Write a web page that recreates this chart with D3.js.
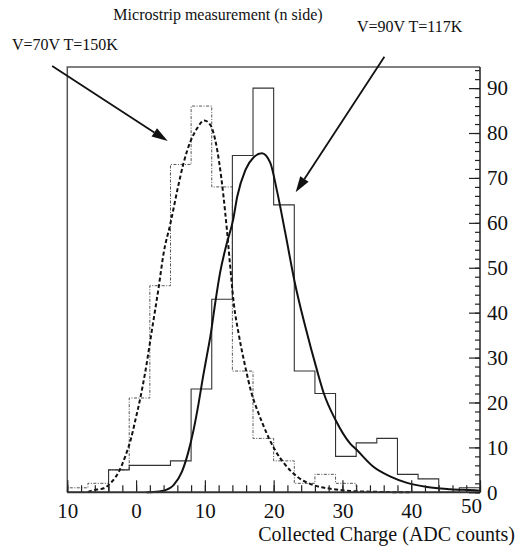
<!DOCTYPE html>
<html>
<head>
<meta charset="utf-8">
<script src="https://cdn.jsdelivr.net/npm/d3@7"></script>
<style>
  body { margin: 0; background: #fff; }
  text { font-family: "Liberation Serif", "Times New Roman", serif; fill: #111; }
</style>
</head>
<body>
<div id="chart"></div>
<script>
// Bin edges of both histograms (width 3 ADC counts)
const binEdges = [-10, -7, -4, -1, 2, 5, 8, 11, 14, 17, 20, 23, 26, 29, 32, 35, 38, 41, 44, 47, 50];

// V=90V T=117K histogram (solid)
const countsHot = [0, 0, 5, 6, 6, 7, 23, 43, 75, 90, 64, 27, 22, 8, 11, 12, 4, 3, 0, 1];
// V=70V T=150K histogram (dotted)
const countsCold = [1, 2, 5, 21, 46, 73, 86, 68, 27, 12, 7, 2, 4, 2, 0, 0, 0, 0, 0, 0];

// fit curve for V=90V
const fitHotX = [1.5, 2.5, 4.0, 5.45, 6.67, 7.6, 8.36, 9.09, 9.73, 10.3, 10.8, 11.5, 12.2, 13.2, 14.1, 14.7, 15.9, 17.1, 18.3, 19.5, 20.5, 21.7, 23.1, 24.6, 26.3, 27.3, 29.0, 31.1, 32.1, 34.5, 37.0, 39.4, 42.3, 45.7, 49.6, 50];
const fitHotY = [0, 0.05, 0.36, 1.6, 4.6, 9.0, 13.9, 19.8, 25.7, 30.5, 34.7, 42.1, 48.8, 55.5, 60.6, 65.8, 71.8, 74.6, 75.5, 73.4, 67.0, 57.7, 46.5, 36.9, 27.2, 22.0, 16.1, 10.9, 9.4, 5.7, 3.5, 2.1, 1.2, 0.7, 0.4, 0.35];

// fit curve for V=70V
const fitColdX = [-7, -6.4, -4.7, -3.5, -2.5, -1.6, -0.8, -0.1, 0.6, 1.3, 2.3, 3.3, 4.0, 5.0, 6.0, 6.9, 7.9, 8.9, 9.9, 10.8, 11.5, 12.1, 12.7, 13.2, 13.7, 14.2, 14.9, 15.8, 16.8, 17.8, 19.0, 20.2, 21.7, 23.4, 25.8, 28.7, 31.1, 35, 40];
const fitColdY = [0.1, 0.4, 0.9, 2.4, 4.6, 7.9, 11.6, 16.1, 20.9, 26.5, 36.1, 45.8, 53.2, 59.9, 67.3, 73.3, 78.1, 81.1, 82.8, 81.8, 78.5, 73.3, 66.0, 58.5, 50.0, 42.1, 35.4, 28.5, 22.0, 17.6, 13.1, 9.4, 6.1, 3.5, 1.6, 0.7, 0.3, 0.1, 0];

const xTicks = [-10, 0, 10, 20, 30, 40, 50];
const xTickLabels = ["10", "0", "10", "20", "30", "40", "50"];
const yTicks = [0, 10, 20, 30, 40, 50, 60, 70, 80, 90];

// Layout
const width = 520, height = 551;
const margin = {top: 67, right: 40, bottom: 58.7, left: 67.3};
const innerW = width - margin.left - margin.right;
const innerH = height - margin.top - margin.bottom;

const svg = d3.select("#chart").append("svg")
    .attr("width", width)
    .attr("height", height);

const g = svg.append("g")
    .attr("transform", `translate(${margin.left},${margin.top})`);

const x = d3.scaleLinear().domain([-10, 50]).range([0, innerW]);
const y = d3.scaleLinear().domain([0, 94.7]).range([innerH, 0]);

// Frame (top + left)
g.append("path")
    .attr("d", `M0,${innerH}V0H${innerW}`)
    .attr("fill", "none")
    .attr("stroke", "#555")
    .attr("stroke-width", 1.5);

// Histograms as step outlines
function histPath(counts) {
    const pts = [[binEdges[0], 0]];
    counts.forEach((c, i) => {
        pts.push([binEdges[i], c]);
        pts.push([binEdges[i + 1], c]);
    });
    pts.push([binEdges[binEdges.length - 1], 0]);
    return d3.line().x(d => x(d[0])).y(d => y(d[1]))(pts);
}

g.append("path")
    .attr("d", histPath(countsCold))
    .attr("fill", "none")
    .attr("stroke", "#555")
    .attr("stroke-width", 1)
    .attr("stroke-dasharray", "3,1.5,1,1.5");

g.append("path")
    .attr("d", histPath(countsHot))
    .attr("fill", "none")
    .attr("stroke", "#333")
    .attr("stroke-width", 1.1);

// Fit curves
const fitLine = d3.line()
    .x(d => x(d[0]))
    .y(d => y(d[1]))
    .curve(d3.curveMonotoneX);

g.append("path")
    .attr("d", fitLine(d3.zip(fitColdX, fitColdY)))
    .attr("fill", "none")
    .attr("stroke", "#111")
    .attr("stroke-width", 2)
    .attr("stroke-dasharray", "4,2.5");

g.append("path")
    .attr("d", fitLine(d3.zip(fitHotX, fitHotY)))
    .attr("fill", "none")
    .attr("stroke", "#111")
    .attr("stroke-width", 2);

// Bottom axis, ticks pointing up
const xAxis = g.append("g")
    .attr("transform", `translate(0,${innerH})`)
    .call(d3.axisBottom(x).tickValues(xTicks)
        .tickFormat((d, i) => xTickLabels[i])
        .tickSizeInner(-12).tickSizeOuter(0).tickPadding(11));
xAxis.select(".domain").remove();
xAxis.selectAll("text").attr("font-size", 21).style("font-family", "Liberation Serif");
xAxis.selectAll(".tick").filter(d => d === 50).select("text")
    .attr("dx", -9).attr("dy", "0.46em");

const xMinor = g.append("g")
    .attr("transform", `translate(0,${innerH})`)
    .call(d3.axisBottom(x).tickValues(d3.range(-10, 51, 2))
        .tickFormat("").tickSizeInner(-7).tickSizeOuter(0));
xMinor.select(".domain").remove();

g.append("line")
    .attr("x1", 0).attr("x2", innerW)
    .attr("y1", innerH).attr("y2", innerH)
    .attr("stroke", "#333").attr("stroke-width", 2);

// Right axis, ticks pointing left
const yAxis = g.append("g")
    .attr("transform", `translate(${innerW},0)`)
    .call(d3.axisRight(y).tickValues(yTicks)
        .tickSizeInner(-11).tickSizeOuter(0).tickPadding(7));
yAxis.select(".domain").remove();
yAxis.selectAll("text").attr("font-size", 21).style("font-family", "Liberation Serif");

const yMinor = g.append("g")
    .attr("transform", `translate(${innerW},0)`)
    .call(d3.axisRight(y).tickValues(d3.range(0, 95, 2))
        .tickFormat("").tickSizeInner(-5).tickSizeOuter(0));
yMinor.select(".domain").remove();

g.append("line")
    .attr("x1", innerW).attr("x2", innerW)
    .attr("y1", 0).attr("y2", innerH)
    .attr("stroke", "#222").attr("stroke-width", 1.5);

g.selectAll(".tick line").attr("stroke", "#222").attr("stroke-width", 1.2);

// Annotation arrows (data coordinates)
const arrows = [
    {from: [-12.2, 94.9], to: [4.6, 78.2]},
    {from: [36.1, 97.0], to: [23.2, 66.8]}
];

arrows.forEach(a => {
    const x0 = x(a.from[0]), y0 = y(a.from[1]);
    const x1 = x(a.to[0]), y1 = y(a.to[1]);
    const ang = Math.atan2(y1 - y0, x1 - x0);
    const len = 16, half = 5;
    const bx = x1 - len * Math.cos(ang), by = y1 - len * Math.sin(ang);
    g.append("line")
        .attr("x1", x0).attr("y1", y0).attr("x2", bx).attr("y2", by)
        .attr("stroke", "#111").attr("stroke-width", 1.8);
    g.append("path")
        .attr("d", `M${x1},${y1}L${bx + half * Math.sin(ang)},${by - half * Math.cos(ang)}L${bx - half * Math.sin(ang)},${by + half * Math.cos(ang)}Z`)
        .attr("fill", "#111");
});

// Texts
svg.append("text")
    .attr("x", 218).attr("y", 20)
    .attr("text-anchor", "middle")
    .attr("font-size", 16)
    .text("Microstrip measurement (n side)");

svg.append("text")
    .attr("x", 357).attr("y", 32)
    .attr("font-size", 16)
    .text("V=90V T=117K");

svg.append("text")
    .attr("x", 12).attr("y", 50)
    .attr("font-size", 16)
    .text("V=70V T=150K");

svg.append("text")
    .attr("x", 515).attr("y", 541)
    .attr("text-anchor", "end")
    .attr("font-size", 20)
    .text("Collected Charge (ADC counts)");
</script>
</body>
</html>
